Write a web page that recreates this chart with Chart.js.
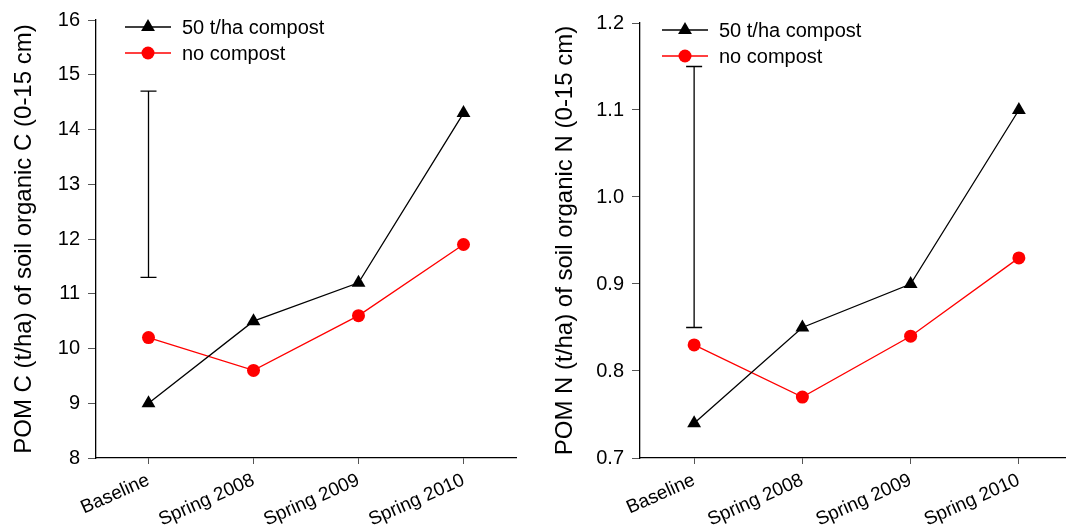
<!DOCTYPE html>
<html>
<head>
<meta charset="utf-8">
<script src="https://cdn.jsdelivr.net/npm/chart.js@4.4.0/dist/chart.umd.min.js"></script>
<style>
  html, body { margin: 0; padding: 0; background: #fff; }
  .wrap { display: flex; width: 1066px; height: 529px; }
  .box { position: relative; width: 533px; height: 529px; overflow: hidden; }
</style>
</head>
<body>
<div class="wrap">
  <div class="box"><canvas id="chartC"></canvas></div>
  <div class="box"><canvas id="chartN"></canvas></div>
</div>
<script>
const categories = ["Baseline", "Spring 2008", "Spring 2009", "Spring 2010"];
const seriesLabels = ["50 t/ha compost", "no compost"];

// POM C (t/ha)
const compostC = [9.0, 10.5, 11.2, 14.3];
const noCompostC = [10.2, 9.6, 10.6, 11.9];
const errBarC = [11.3, 14.7];
const ticksC = [8, 9, 10, 11, 12, 13, 14, 15, 16];

// POM N (t/ha)
const compostN = [0.74, 0.85, 0.90, 1.10];
const noCompostN = [0.83, 0.77, 0.84, 0.93];
const errBarN = [0.85, 1.15];
const ticksN = [0.7, 0.8, 0.9, 1.0, 1.1, 1.2];

const FONT = "Arial, 'Liberation Sans', sans-serif";

// vertical error bar drawn at the first category
const errorBarPlugin = {
  id: "errorBar",
  afterDatasetsDraw(chart, args, opts) {
    const ctx = chart.ctx;
    const x = chart.scales.x.getPixelForValue(0);
    const y1 = chart.scales.y.getPixelForValue(opts.range[0]);
    const y2 = chart.scales.y.getPixelForValue(opts.range[1]);
    ctx.save();
    ctx.strokeStyle = "#000";
    ctx.lineWidth = 1.3;
    ctx.beginPath();
    ctx.moveTo(x, y1); ctx.lineTo(x, y2);
    ctx.moveTo(x - 8, y1); ctx.lineTo(x + 8, y1);
    ctx.moveTo(x - 8, y2); ctx.lineTo(x + 8, y2);
    ctx.stroke();
    ctx.restore();
  }
};

// legend with line + marker inside the plot
const lineLegendPlugin = {
  id: "lineLegend",
  afterDraw(chart, args, opts) {
    const ctx = chart.ctx;
    const area = chart.chartArea;
    ctx.save();
    chart.data.datasets.forEach((ds, i) => {
      const x0 = area.left + opts.x;
      const y = area.top + opts.y + i * 26;
      ctx.strokeStyle = ds.borderColor;
      ctx.lineWidth = 1.3;
      ctx.beginPath();
      ctx.moveTo(x0, y); ctx.lineTo(x0 + 46, y);
      ctx.stroke();
      ctx.fillStyle = ds.pointBackgroundColor;
      Chart.helpers.drawPoint(ctx, {
        pointStyle: ds.pointStyle, radius: ds.pointRadius, rotation: 0, borderWidth: 0
      }, x0 + 23, y);
      ctx.fillStyle = "#000";
      ctx.font = "20px " + FONT;
      ctx.textBaseline = "middle";
      ctx.fillText(ds.label, x0 + 57, y + 1);
    });
    ctx.restore();
  }
};

function makeChart(id, compost, noCompost, errBar, ticks, yTitle, yWidth, decimals, legendPos, titlePad, rightPad, topPad) {
  return new Chart(document.getElementById(id), {
    type: "line",
    data: {
      labels: categories,
      datasets: [
        {
          label: seriesLabels[0],
          data: compost,
          borderColor: "#000",
          backgroundColor: "#000",
          pointBackgroundColor: "#000",
          pointBorderWidth: 0,
          pointStyle: "triangle",
          pointRadius: 8,
          borderWidth: 1.3,
          tension: 0
        },
        {
          label: seriesLabels[1],
          data: noCompost,
          borderColor: "#ff0000",
          backgroundColor: "#ff0000",
          pointBackgroundColor: "#ff0000",
          pointBorderWidth: 0,
          pointStyle: "circle",
          pointRadius: 6.5,
          borderWidth: 1.3,
          tension: 0
        }
      ]
    },
    options: {
      responsive: false,
      animation: false,
      devicePixelRatio: 1,
      layout: { padding: { top: topPad, right: rightPad, left: 0, bottom: 0 } },
      plugins: {
        legend: { display: false },
        tooltip: { enabled: false },
        errorBar: { range: errBar },
        lineLegend: legendPos
      },
      scales: {
        x: {
          offset: true,
          grid: { display: true, drawOnChartArea: false, tickLength: 6, color: "#555", offset: false },
          border: { color: "#000", width: 1.3 },
          ticks: {
            color: "#000",
            font: { size: 19, family: FONT },
            minRotation: 24,
            maxRotation: 24,
            padding: 5
          },
          afterFit(scale) {
            scale.height = 71;
            scale.paddingLeft = 0;
            scale.paddingRight = 0;
          }
        },
        y: {
          min: ticks[0],
          max: ticks[ticks.length - 1],
          grid: { display: true, drawOnChartArea: false, tickLength: 8, color: "#555" },
          border: { color: "#000", width: 1.3 },
          afterBuildTicks(scale) { scale.ticks = ticks.map(v => ({ value: v })); },
          ticks: {
            color: "#000",
            font: { size: 20, family: FONT },
            padding: 8,
            callback: v => Number(v).toFixed(decimals)
          },
          title: {
            display: true,
            text: yTitle,
            color: "#000",
            font: { size: 24, family: FONT },
            padding: { top: titlePad, bottom: 0 }
          },
          afterFit(scale) { scale.width = yWidth; }
        }
      }
    },
    plugins: [errorBarPlugin, lineLegendPlugin]
  });
}

function sizeCanvas(id, w) {
  const c = document.getElementById(id);
  c.width = w; c.height = 529;
  c.style.width = w + "px"; c.style.height = "529px";
}
sizeCanvas("chartC", 533);
sizeCanvas("chartN", 548);

makeChart("chartC", compostC, noCompostC, errBarC, ticksC,
  "POM C (t/ha) of soil organic C (0-15 cm)", 96, 0, { x: 29, y: 7 }, 10, 17, 20);
makeChart("chartN", compostN, noCompostN, errBarN, ticksN,
  "POM N (t/ha) of soil organic N (0-15 cm)", 107, 1, { x: 22, y: 7 }, 18, 0, 23);
</script>
</body>
</html>
